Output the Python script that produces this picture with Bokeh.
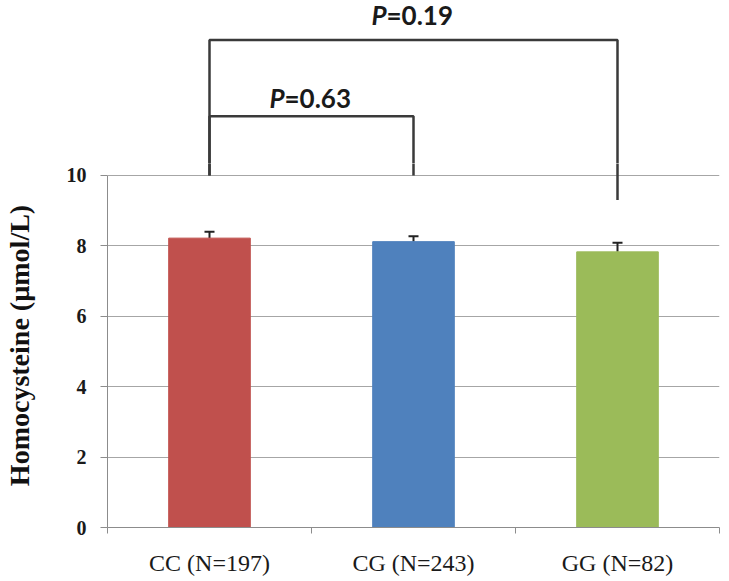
import numpy as np
from bokeh.plotting import figure
from bokeh.layouts import column
from bokeh.models import ColumnDataSource, FixedTicker, Whisker, TeeHead, Range1d
from bokeh.core.properties import value
from bokeh.embed import file_html
from bokeh.resources import INLINE

categories = ["CC (N=197)", "CG (N=243)", "GG (N=82)"]
means = [8.22, 8.12, 7.83]
errors = [0.18, 0.15, 0.26]
colors = ["#c0504d", "#4f81bd", "#9bbb59"]
y_ticks = [0, 2, 4, 6, 8, 10]

# significance brackets (category indices)
br_left = [0, 0]
br_right = [1, 2]
br_top = [11.68, 13.85]
br_left_bottom = [10.0, 10.0]
br_right_bottom = [10.0, 9.3]
br_label_num = ["=0.63", "=0.19"]
br_label_y = [12.2, 14.55]

xc = np.arange(len(categories)) + 0.5
src = ColumnDataSource(dict(
    x=xc, top=means, color=colors,
    upper=np.array(means) + np.array(errors), lower=means,
))

x_range = Range1d(0, len(categories))
split = 10.34

# top panel: brackets above the value axis
pt = figure(width=729, height=163, output_backend="svg", toolbar_location=None,
            x_range=x_range, y_range=Range1d(split, 14.97),
            min_border_left=107, min_border_right=10, min_border_top=0, min_border_bottom=0)
pt.outline_line_color = None
pt.axis.visible = False
pt.grid.grid_line_color = None

# main panel
p = figure(width=729, height=418, output_backend="svg", toolbar_location=None,
           x_range=x_range, y_range=Range1d(0, split),
           min_border_left=107, min_border_right=10, min_border_top=0, min_border_bottom=54)
p.outline_line_color = None

p.vbar(x="x", top="top", width=0.4, color="color", source=src)
w = Whisker(source=src, base="x", upper="upper", lower="lower",
            upper_head=TeeHead(size=10, line_width=2, line_color="#222222"),
            lower_head=None, line_width=2, line_color="#222222")
p.add_layout(w)

# brackets (drawn in both panels; each clips to its own area)
xs, ys = [], []
for l, r, t, lb, rb in zip(br_left, br_right, br_top, br_left_bottom, br_right_bottom):
    xs.append([xc[l], xc[l], xc[r], xc[r]])
    ys.append([lb, t, t, rb])
for fig in (pt, p):
    fig.multi_line(xs=xs, ys=ys, line_color="#3a3a3a", line_width=2.5)

mid = [(xc[l] + xc[r]) / 2 for l, r in zip(br_left, br_right)]
pt.text(x=mid, y=br_label_y, text=["P", "P"], text_align="right", text_baseline="middle",
        x_offset=-27, text_font=value("Lato"), text_font_style="bold italic",
        text_font_size="26px", text_color="#1a1a1a")
pt.text(x=mid, y=br_label_y, text=br_label_num, text_align="left", text_baseline="middle",
        x_offset=-27, text_font=value("Lato"), text_font_style="bold",
        text_font_size="26px", text_color="#1a1a1a")

# y axis
ya = p.yaxis[0]
ya.bounds = (0, 10)
ya.ticker = FixedTicker(ticks=y_ticks)
ya.axis_line_color = "#8c8c8c"
ya.major_tick_line_color = "#8c8c8c"
ya.major_tick_out = 7
ya.major_tick_in = 0
ya.minor_tick_line_color = None
ya.major_label_text_font = "Liberation Serif"
ya.major_label_text_font_style = "bold"
ya.major_label_text_font_size = "20px"
ya.major_label_text_color = "#1a1a1a"
ya.major_label_standoff = 14
ya.axis_label = "Homocysteine (µmol/L)"
ya.axis_label_text_font = "Liberation Serif"
ya.axis_label_text_font_style = "bold"
ya.axis_label_text_font_size = "28px"
ya.axis_label_text_color = "#111111"
ya.axis_label_standoff = 29

# x axis
xa = p.xaxis[0]
xa.ticker = FixedTicker(ticks=list(xc), minor_ticks=list(range(len(categories) + 1)))
xa.major_label_overrides = {float(x): c for x, c in zip(xc, categories)}
xa.major_tick_line_color = None
xa.minor_tick_line_color = "#8c8c8c"
xa.minor_tick_out = 6
xa.minor_tick_in = 0
xa.axis_line_color = "#8c8c8c"
xa.major_label_text_font = "Liberation Serif"
xa.major_label_text_font_size = "24px"
xa.major_label_text_color = "#1a1a1a"
xa.major_label_standoff = 16

p.xgrid.grid_line_color = None
p.ygrid.grid_line_color = "#a6a6a6"
p.ygrid.ticker = FixedTicker(ticks=y_ticks[1:])

layout = column(pt, p, spacing=0)
open("out.html", "w").write(file_html(layout, INLINE))
